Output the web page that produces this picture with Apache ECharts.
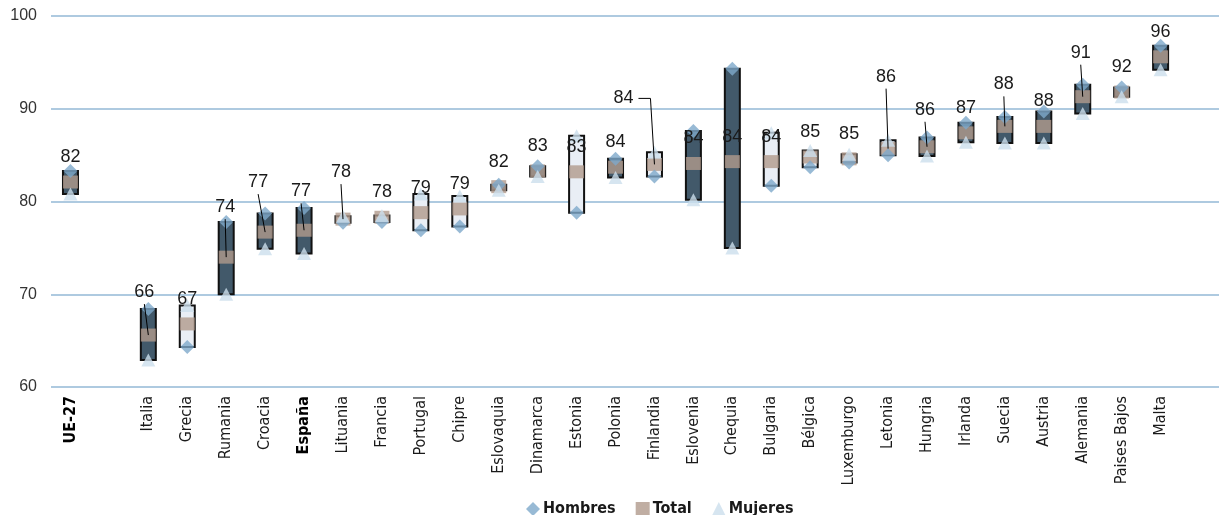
<!DOCTYPE html>
<html>
<head>
<meta charset="utf-8">
<script src="https://cdn.jsdelivr.net/npm/echarts@6/dist/echarts.min.js"></script>
<style>
  html, body { margin: 0; padding: 0; background: #ffffff; }
  #chart { width: 1219px; height: 515px; }
</style>
</head>
<body>
<div id="chart"></div>
<script>
// ---- Data ----
const categories = ['UE-27', '', 'Italia', 'Grecia', 'Rumania', 'Croacia', 'España', 'Lituania', 'Francia',
  'Portugal', 'Chipre', 'Eslovaquia', 'Dinamarca', 'Estonia', 'Polonia', 'Finlandia', 'Eslovenia',
  'Chequia', 'Bulgaria', 'Bélgica', 'Luxemburgo', 'Letonia', 'Hungria', 'Irlanda', 'Suecia', 'Austria',
  'Alemania', 'Paises Bajos', 'Malta', ' '];
const hombres = [83.3, null, 68.4, 64.3, 77.8, 78.7, 79.3, 77.7, 77.8, 76.9, 77.3, 81.8, 83.8, 78.8,
  84.6, 82.7, 87.6, 94.3, 81.7, 83.7, 84.2, 85.0, 86.9, 88.5, 89.1, 89.7, 92.6, 92.3, 96.8, null];
const mujeres = [80.8, null, 62.9, 68.8, 70.0, 74.9, 74.4, 78.4, 78.5, 80.8, 80.6, 81.2, 82.7, 87.1,
  82.6, 85.3, 80.2, 75.0, 87.4, 85.5, 85.1, 86.6, 84.9, 86.4, 86.3, 86.3, 89.5, 91.3, 94.2, null];
const total = [82.1, null, 65.6, 66.8, 74.0, 76.7, 76.9, 78.1, 78.3, 78.8, 79.2, 81.6, 83.3, 83.2,
  83.7, 84.0, 84.1, 84.3, 84.3, 84.8, 84.6, 85.7, 85.9, 87.4, 88.1, 88.1, 91.3, 91.8, 95.6, null];
const yTicks = [60, 70, 80, 90, 100];
const boldCategories = ['UE-27', 'España'];

// ---- Layout (label placement, pixels relative to the Total marker) ----
const defaultLabelShift = [0, -25];
const labelShift = {
  'Italia': [-4, -43], 'Rumania': [-1, -50], 'Croacia': [-7, -50], 'España': [-3, -39],
  'Lituania': [-2, -47], 'Finlandia': [-31, -66, 'elbow'], 'Letonia': [-2, -72],
  'Hungria': [-2, -37], 'Suecia': [-1, -42], 'Alemania': [-2, -44]
};

// ---- Styles ----
const C = {
  dark: '#42596A', light: '#E9EEF5', total: '#B09A8C', hombres: '#7EA9CA', mujeres: '#CCDFEC',
  grid: '#93B9D6', text: '#1a1a1a'
};
const narrow = '"Liberation Sans Narrow", "Arial Narrow", "DejaVu Sans Condensed", sans-serif';
const sans = '"Liberation Sans", Arial, Helvetica, sans-serif';

const chart = echarts.init(document.getElementById('chart'), null, { renderer: 'canvas' });

const barData = categories.map((c, i) => [i, hombres[i], mujeres[i]]);
const labelData = categories.map((c, i) => [i, total[i]]);

const option = {
  backgroundColor: '#ffffff',
  animation: false,
  grid: { left: 51, top: 16, width: 1174, height: 371, containLabel: false },
  legend: {
    left: 521, top: 496, itemWidth: 14, itemHeight: 14, itemGap: 20,
    selectedMode: false,
    data: [
      { name: 'Hombres', icon: 'diamond' },
      { name: 'Total', icon: 'rect' },
      { name: 'Mujeres', icon: 'triangle' }
    ],
    textStyle: { fontFamily: narrow, fontWeight: 'bold', fontSize: 16, color: C.text, padding: [0, 0, 0, -2] }
  },
  xAxis: {
    type: 'category', data: categories, boundaryGap: true,
    axisLine: { show: false }, axisTick: { show: false },
    axisLabel: {
      interval: 0, rotate: 90, margin: 9,
      fontFamily: narrow, fontSize: 16, color: C.text,
      formatter: v => boldCategories.includes(v) ? '{b|' + v + '}' : '{n|' + v + '}',
      rich: {
        b: { fontFamily: narrow, fontSize: 16, fontWeight: 'bold', color: '#000' },
        n: { fontFamily: narrow, fontSize: 16, color: C.text }
      }
    }
  },
  yAxis: {
    type: 'value', min: yTicks[0], max: yTicks[yTicks.length - 1], interval: 10,
    axisLine: { show: false }, axisTick: { show: false },
    axisLabel: { margin: 14, fontFamily: sans, fontSize: 16, color: '#333' },
    splitLine: { show: true, lineStyle: { color: C.grid, width: 1.5 } }
  },
  series: [
    {
      name: 'rango', type: 'custom', z: 2, data: barData,
      encode: { x: 0, y: [1, 2] },
      renderItem: function (params, api) {
        const h = api.value(1), m = api.value(2);
        if (h == null || m == null || isNaN(h) || isNaN(m)) return;
        const p1 = api.coord([api.value(0), h]);
        const p2 = api.coord([api.value(0), m]);
        const w = 15;
        return {
          type: 'rect',
          shape: { x: p1[0] - w / 2, y: Math.min(p1[1], p2[1]), width: w, height: Math.abs(p1[1] - p2[1]) },
          style: { fill: h > m ? C.dark : C.light, stroke: '#111', lineWidth: 2 }
        };
      }
    },
    {
      name: 'Total', type: 'scatter', z: 3, symbol: 'rect', symbolSize: [15, 13],
      itemStyle: { color: C.total }, data: total.map((v, i) => [i, v])
    },
    {
      name: 'Hombres', type: 'scatter', z: 4, symbol: 'diamond', symbolSize: [14, 14],
      itemStyle: { color: C.hombres }, data: hombres.map((v, i) => [i, v])
    },
    {
      name: 'Mujeres', type: 'scatter', z: 5, symbol: 'triangle', symbolSize: [14, 13],
      itemStyle: { color: C.mujeres }, data: mujeres.map((v, i) => [i, v])
    },
    {
      name: 'etiquetas', type: 'custom', z: 10, data: labelData,
      encode: { x: 0, y: 1 },
      renderItem: function (params, api) {
        const t = api.value(1);
        if (t == null || isNaN(t)) return;
        const idx = api.value(0);
        const p = api.coord([idx, t]);
        const s = labelShift[categories[idx]] || defaultLabelShift;
        const lx = p[0] + s[0], ly = p[1] + s[1];
        const children = [];
        if (s !== defaultLabelShift) {
          let pts;
          if (s[2] === 'elbow') pts = [[lx + 15, ly], [p[0] - 4, ly], [p[0], p[1]]];
          else pts = [[lx, ly + 12], [p[0], p[1]]];
          children.push({ type: 'polyline', shape: { points: pts }, style: { stroke: '#000', lineWidth: 1, fill: null } });
        }
        children.push({
          type: 'text',
          style: {
            x: lx, y: ly, text: String(Math.round(t)), align: 'center', verticalAlign: 'middle',
            font: '18px ' + sans, fill: C.text
          }
        });
        return { type: 'group', children: children };
      }
    }
  ]
};
chart.setOption(option);
</script>
</body>
</html>
